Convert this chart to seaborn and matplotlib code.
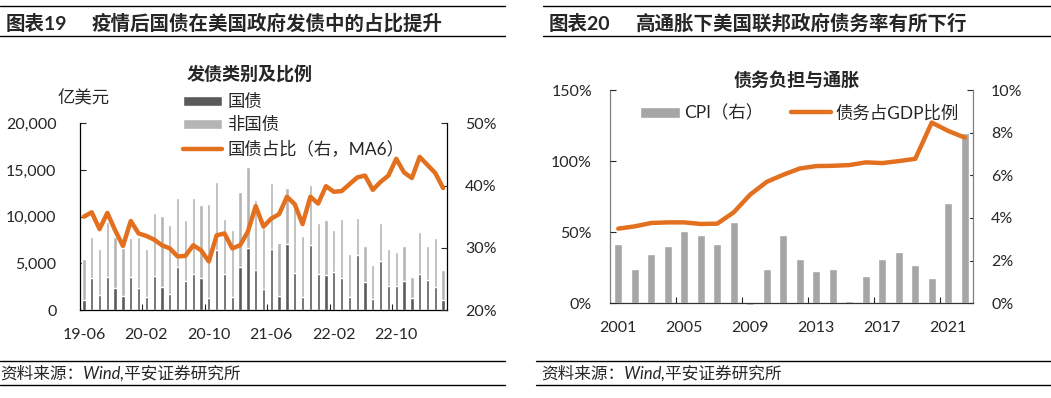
import numpy as np
import pandas as pd
import seaborn as sns
import matplotlib.pyplot as plt
from matplotlib.lines import Line2D
from matplotlib.ticker import FuncFormatter

# chart 19: monthly issuance (100m USD) and treasury share (%, MA6)
months = [
    "19-06", "19-07", "19-08", "19-09", "19-10", "19-11", "19-12",
    "20-01", "20-02", "20-03", "20-04", "20-05", "20-06", "20-07", "20-08",
    "20-09", "20-10", "20-11", "20-12", "21-01", "21-02", "21-03", "21-04",
    "21-05", "21-06", "21-07", "21-08", "21-09", "21-10", "21-11", "21-12",
    "22-01", "22-02", "22-03", "22-04", "22-05", "22-06", "22-07", "22-08",
    "22-09", "22-10", "22-11", "22-12", "23-01", "23-02", "23-03", "23-04",
]
govt_issuance = [
    1070, 3460, 1600, 3570, 2390, 1540, 3570, 2390, 1430, 3640,
    2500, 1710, 4570, 3110, 3890, 3460, 1320, 6430, 3890, 1430,
    4640, 6610, 4320, 2250, 6540, 1540, 7040, 4000, 1430, 6960,
    3860, 3750, 4070, 3460, 1430, 5890, 2960, 1180, 5250, 2570,
    2570, 3110, 1290, 3860, 3210, 2500, 1110,
]
other_issuance = [
    4430, 4400, 4940, 5890, 5400, 5060, 4110, 5400, 5110, 6750,
    7600, 7430, 7470, 6530, 8150, 7750, 10040, 7320, 5860, 7140,
    8000, 8680, 7470, 6500, 7030, 5600, 6000, 6900, 6530, 6430,
    5430, 5860, 4540, 6290, 4530, 3970, 3900, 3640, 4110, 3930,
    3640, 3780, 2210, 4460, 3650, 5250, 3180,
]
govt_share_ma6 = [
    35.0, 35.7, 33.0, 35.6, 32.8, 30.3, 34.3, 32.3, 31.9, 31.3,
    30.4, 29.9, 28.6, 28.7, 30.4, 29.6, 27.8, 32.0, 32.3, 29.9,
    30.4, 32.6, 36.7, 33.4, 34.7, 35.4, 38.2, 37.0, 33.8, 38.2,
    37.1, 39.9, 39.0, 39.1, 40.2, 41.3, 41.6, 39.3, 40.6, 41.6,
    44.3, 42.1, 41.2, 44.6, 43.3, 42.0, 39.6,
]

# chart 20: US CPI (%) and federal debt / GDP (%)
years = [str(y) for y in range(2001, 2023)]
cpi = [2.8, 1.6, 2.3, 2.7, 3.4, 3.2, 2.8, 3.8, -0.1, 1.6, 3.2,
       2.1, 1.5, 1.6, 0.1, 1.3, 2.1, 2.4, 1.8, 1.2, 4.7, 8.0]
debt_to_gdp = [52.5, 54.1, 56.5, 56.9, 56.9, 55.8, 56.0, 64.0, 76.5, 85.4, 90.4,
               94.8, 96.5, 96.7, 97.2, 99.1, 98.6, 100.0, 101.6, 127.1, 121.2, 116.5]

sns.set_style("white")
plt.rcParams["font.family"] = ["Lato", "Noto Sans CJK SC", "DejaVu Sans"]
plt.rcParams["axes.unicode_minus"] = False

ORANGE = "#E3701F"
DARK = "#5A5A5A"
LIGHT = "#B5B5B5"
CPI_GREY = "#A6A6A6"
TICK_FS = 11.5
LEG_FS = 12.5

W, H = 1051, 398
fig = plt.figure(figsize=(W / 100, H / 100), dpi=100)


def fx(x):
    return x / W


def fy(y):
    return 1 - y / H


def box(l, t, r, b):
    return [fx(l), fy(b), fx(r) - fx(l), fy(t) - fy(b)]


def rule(x0, x1, y, lw=1.0):
    fig.add_artist(Line2D([fx(x0), fx(x1)], [fy(y), fy(y)], color="black", lw=lw))


def drop_legends(*axes):
    for a in axes:
        if a.get_legend() is not None:
            a.get_legend().remove()


pct = FuncFormatter(lambda v, _: f"{v:.0f}%")

# page frame: headers, rules, source notes
rule(0, 505, 6)
rule(0, 505, 35.5)
rule(0, 505, 361)
rule(0, 505, 385)
rule(543, 1051, 6)
rule(543, 1051, 35.5)
rule(536, 1051, 361)
rule(536, 1051, 385)
for xs in (0, 541):
    fig.text(fx(xs), fy(373), "资料来源：Wind,平安证券研究所", style="italic",
             fontsize=12, va="center", ha="left")

fig.text(fx(6), fy(23), "图表19", fontsize=14, fontweight="bold", va="center")
fig.text(fx(92), fy(23), "疫情后国债在美国政府发债中的占比提升", fontsize=14,
         fontweight="bold", va="center")
fig.text(fx(549), fy(23), "图表20", fontsize=14, fontweight="bold", va="center")
fig.text(fx(636), fy(23), "高通胀下美国联邦政府债务率有所下行", fontsize=14,
         fontweight="bold", va="center")

# ---------------- chart 19 ----------------
df1 = pd.DataFrame({"month": months, "govt": govt_issuance,
                    "other": other_issuance, "share": govt_share_ma6})
df1["total"] = df1["govt"] + df1["other"]
df1["pos"] = np.arange(len(df1))
n1 = len(df1)

ax1 = fig.add_axes(box(80, 123.3, 447, 310))
sns.barplot(data=df1, x="month", y="total", color=LIGHT, saturation=1,
            width=0.42, label="非国债", ax=ax1)
sns.barplot(data=df1, x="month", y="govt", color=DARK, saturation=1,
            width=0.42, label="国债", ax=ax1)
ax1r = ax1.twinx()
sns.lineplot(data=df1, x="pos", y="share", color=ORANGE, lw=3.2,
             label="国债占比（右，MA6）", legend=False, ax=ax1r)
drop_legends(ax1, ax1r)

ax1.set_xlim(-0.5, n1 - 0.5)
ax1.set_ylim(0, 20000)
ax1.set_yticks(np.arange(0, 20001, 5000))
ax1.yaxis.set_major_formatter(FuncFormatter(lambda v, _: f"{v:,.0f}"))
ax1r.set_ylim(20, 50)
ax1r.set_yticks([20, 30, 40, 50])
ax1r.yaxis.set_major_formatter(pct)
ax1.set_xticks(np.arange(0, n1, 8))
ax1.set_xticklabels(months[::8])
ax1.set_xticks(np.arange(7.5, n1, 8), minor=True)
for a in (ax1, ax1r):
    a.set_xlabel("")
    a.set_ylabel("")
ax1.tick_params(axis="y", direction="in", length=4, width=0.8, pad=17,
                labelsize=TICK_FS, left=True)
ax1r.tick_params(axis="y", direction="in", length=4, width=0.8, pad=13,
                 labelsize=TICK_FS, right=True)
ax1.tick_params(axis="x", which="major", length=0, pad=13, labelsize=TICK_FS)
ax1.tick_params(axis="x", which="minor", direction="in", length=4.5, width=0.8,
                bottom=True)
for s in ax1r.spines.values():
    s.set_visible(False)
ax1.spines["top"].set_visible(False)
for s in ("left", "right", "bottom"):
    ax1.spines[s].set_color("black")
    ax1.spines[s].set_linewidth(0.9)

h, l = ax1.get_legend_handles_labels()
hl, ll = ax1r.get_legend_handles_labels()
fig.legend([h[1], h[0], hl[0]], [l[1], l[0], ll[0]], loc="upper left",
           bbox_to_anchor=(fx(183), fy(94)), frameon=False, fontsize=LEG_FS,
           handlelength=2.25, handleheight=0.55, handletextpad=0.3,
           labelspacing=0.42, borderpad=0, borderaxespad=0)

fig.text(fx(250), fy(74), "发债类别及比例", fontsize=13, fontweight="bold",
         ha="center", va="center")
fig.text(fx(84), fy(98), "亿美元", fontsize=12.5, ha="center", va="center")

# ---------------- chart 20 ----------------
df2 = pd.DataFrame({"year": years, "cpi": cpi, "debt": debt_to_gdp})
df2["pos"] = np.arange(len(df2))
n2 = len(df2)

ax2 = fig.add_axes(box(610, 90, 973, 303.3))
sns.barplot(data=df2, x="year", y="cpi", color=CPI_GREY, saturation=1,
            width=0.5, label="CPI（右）", ax=ax2)
for p in ax2.patches:
    p.set_clip_on(False)
ax2l = ax2.twinx()
ax2.yaxis.tick_right()
ax2l.yaxis.tick_left()
sns.lineplot(data=df2, x="pos", y="debt", color=ORANGE, lw=3.2,
             label="债务占GDP比例", legend=False, ax=ax2l)
drop_legends(ax2, ax2l)

ax2.set_xlim(-0.5, n2 - 0.5)
ax2.set_ylim(0, 10)
ax2.set_yticks(np.arange(0, 11, 2))
ax2.yaxis.set_major_formatter(pct)
ax2l.set_ylim(0, 150)
ax2l.set_yticks([0, 50, 100, 150])
ax2l.yaxis.set_major_formatter(pct)
ax2.set_xticks(np.arange(0, n2, 4))
ax2.set_xticklabels(years[::4])
ax2.set_xticks(np.arange(3.5, n2, 4), minor=True)
for a in (ax2, ax2l):
    a.set_xlabel("")
    a.set_ylabel("")
ax2.tick_params(axis="y", direction="in", length=4, width=0.8, pad=13,
                labelsize=TICK_FS, right=True, left=False)
ax2l.tick_params(axis="y", direction="in", length=4, width=0.8, pad=13,
                 labelsize=TICK_FS, left=True, right=False)
ax2.tick_params(axis="x", which="major", length=0, pad=13, labelsize=TICK_FS)
ax2.tick_params(axis="x", which="minor", direction="in", length=4.5, width=0.8,
                bottom=True)
for s in ax2l.spines.values():
    s.set_visible(False)
ax2.spines["top"].set_visible(False)
ax2.spines["left"].set_color("#808080")
ax2.spines["right"].set_color("#808080")
ax2.spines["bottom"].set_color("#333333")
for s in ("left", "right", "bottom"):
    ax2.spines[s].set_linewidth(0.9)

h, l = ax2.get_legend_handles_labels()
hl, ll = ax2l.get_legend_handles_labels()
fig.legend([h[0], hl[0]], [l[0], ll[0]], ncol=2, loc="center left",
           bbox_to_anchor=(fx(640), fy(113)), frameon=False, fontsize=LEG_FS,
           handlelength=2.3, handleheight=0.6, handletextpad=0.25,
           columnspacing=1.6, borderpad=0, borderaxespad=0)

fig.text(fx(797), fy(80), "债务负担与通胀", fontsize=13, fontweight="bold",
         ha="center", va="center")

fig.savefig("out.png", dpi=100)
